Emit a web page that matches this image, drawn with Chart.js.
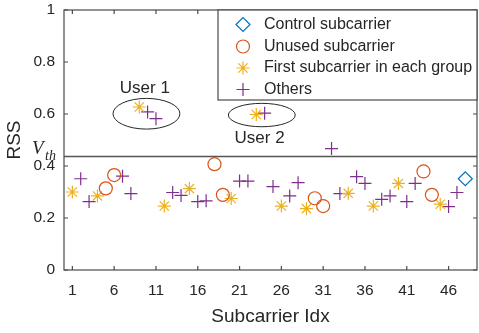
<!DOCTYPE html>
<html><head><meta charset="utf-8">
<script src="https://cdn.jsdelivr.net/npm/chart.js@4.4.0/dist/chart.umd.min.js"></script>
<style>html,body{margin:0;padding:0;background:#fff;overflow:hidden}#wrap{width:479px;height:333px;position:relative}</style>
</head><body><div id="wrap"><canvas id="c" width="479" height="333"></canvas></div>
<script>
// ---- data ----
const subcarrierIdx = [1,2,3,4,5,6,7,8,9,10,11,12,13,14,15,16,17,18,19,20,21,22,23,24,25,26,27,28,29,30,31,32,33,34,35,36,37,38,39,40,41,42,43,44,45,46,47,48];
const rssValues = [0.300,0.351,0.263,0.285,0.314,0.365,0.361,0.294,0.627,0.608,0.582,0.246,0.298,0.287,0.313,0.263,0.266,0.407,0.289,0.275,0.342,0.342,0.598,0.603,0.321,0.246,0.285,0.336,0.236,0.276,0.246,0.467,0.294,0.295,0.359,0.333,0.246,0.272,0.285,0.333,0.263,0.333,0.379,0.289,0.253,0.244,0.298,0.351];
// C = control, U = unused, F = first in group, O = others
const subcarrierType = ['F','O','O','F','U','U','O','O','F','O','O','F','O','O','F','O','O','U','U','F','O','O','F','O','O','F','O','O','F','U','U','O','O','F','O','O','F','O','O','F','O','O','U','U','F','O','O','C'];
const seriesKeys = ['C','U','F','O'];
const seriesNames = ['Control subcarrier','Unused subcarrier','First subcarrier in each group','Others'];
const xTicks = [1,6,11,16,21,26,31,36,41,46];
const yTicks = [0,0.2,0.4,0.6,0.8,1];
const vth = 0.437;
const userLabels = ['User 1','User 2'];
const userCenterX = [9.86,23.66];
const userCenterY = [0.601,0.596];
const userLabelX = [9.67,23.4];
const userLabelY = [0.697,0.508];

// ---- styles ----
const FONT = "'Liberation Sans', Arial, Helvetica, sans-serif";
const TXT = '#262626';
const styles = {
  C:{pointStyle:'rectRot',color:'#0072BD',radius:7},
  U:{pointStyle:'circle',color:'#D95319',radius:6.5},
  F:{pointStyle:'star',color:'#EDB120',radius:6.5},
  O:{pointStyle:'cross',color:'#7E2F8E',radius:6.5}
};

const datasets = seriesKeys.map((k,i)=>({
  label: seriesNames[i],
  data: subcarrierIdx.map((x,j)=>({x:x,y:rssValues[j],t:subcarrierType[j]})).filter(p=>p.t===k),
  pointStyle: styles[k].pointStyle,
  pointRadius: styles[k].radius,
  pointBorderColor: styles[k].color,
  pointBackgroundColor: 'rgba(0,0,0,0)',
  pointBorderWidth: 1.2,
  showLine:false
}));

function drawMarker(ctx,k,x,y){
  const s = styles[k];
  ctx.save();
  ctx.strokeStyle = s.color; ctx.fillStyle='rgba(0,0,0,0)'; ctx.lineWidth=1.2;
  if (Chart.helpers && Chart.helpers.drawPoint) {
    Chart.helpers.drawPoint(ctx,{pointStyle:s.pointStyle,radius:s.radius,rotation:0,borderWidth:1.2},x,y);
  }
  ctx.restore();
}

const decor = {
  id:'decor',
  beforeDatasetsDraw(chart){
    const {ctx, chartArea:a, scales:{x,y}} = chart;
    const py = y.getPixelForValue(vth);
    ctx.save();
    ctx.strokeStyle='#555'; ctx.lineWidth=1.5;
    ctx.beginPath(); ctx.moveTo(a.left,py); ctx.lineTo(a.right,py); ctx.stroke();
    ctx.restore();
  },
  afterDatasetsDraw(chart){
    const {ctx, chartArea:a, scales:{x,y}} = chart;
    ctx.save();
    // ellipses
    ctx.strokeStyle=TXT; ctx.lineWidth=1;
    const rx = [4.0,4.0], ry=[0.059,0.045];
    for(let i=0;i<2;i++){
      const cx=x.getPixelForValue(userCenterX[i]), cy=y.getPixelForValue(userCenterY[i]);
      const w = x.getPixelForValue(userCenterX[i]+rx[i])-cx;
      const h = cy - y.getPixelForValue(userCenterY[i]+ry[i]);
      ctx.beginPath(); ctx.ellipse(cx,cy,w,h,0,0,Math.PI*2); ctx.stroke();
      ctx.fillStyle=TXT; ctx.font='17px '+FONT; ctx.textAlign='center'; ctx.textBaseline='middle';
      ctx.fillText(userLabels[i], x.getPixelForValue(userLabelX[i]), y.getPixelForValue(userLabelY[i]));
    }
    // frame
    ctx.strokeStyle='#4a4a4a'; ctx.lineWidth=1.2;
    ctx.strokeRect(a.left,a.top,a.right-a.left,a.bottom-a.top);
    // inner ticks
    ctx.beginPath();
    xTicks.forEach(v=>{const px=x.getPixelForValue(v); ctx.moveTo(px,a.bottom); ctx.lineTo(px,a.bottom-4); ctx.moveTo(px,a.top); ctx.lineTo(px,a.top+4);});
    yTicks.forEach(v=>{const py=y.getPixelForValue(v); ctx.moveTo(a.left,py); ctx.lineTo(a.left+4,py); ctx.moveTo(a.right,py); ctx.lineTo(a.right-4,py);});
    ctx.stroke();
    // V_th label
    const pv = y.getPixelForValue(vth);
    ctx.fillStyle=TXT; ctx.textAlign='left'; ctx.textBaseline='alphabetic';
    ctx.font="italic 19px 'Liberation Serif', 'Times New Roman', serif";
    ctx.fillText('V',32,pv-2);
    ctx.font="italic 14px 'Liberation Serif', 'Times New Roman', serif";
    ctx.fillText('th',45,pv+4);
    // legend
    const L=218, T=a.top, R=a.right, B=100;
    ctx.fillStyle='#fff'; ctx.fillRect(L,T,R-L,B-T);
    ctx.strokeStyle='#4a4a4a'; ctx.lineWidth=1.2; ctx.strokeRect(L,T,R-L,B-T);
    const rows=[24.5,46.5,68,89.5];
    ctx.font='16px '+FONT; ctx.textBaseline='middle';
    seriesKeys.forEach((k,i)=>{
      drawMarker(ctx,k,243,rows[i]);
      ctx.fillStyle=TXT; ctx.textAlign='left';
      ctx.fillText(seriesNames[i],264,rows[i]);
    });
    ctx.restore();
  }
};

new Chart(document.getElementById('c'),{
  type:'scatter',
  data:{datasets},
  options:{
    responsive:false, animation:false, devicePixelRatio:1,
    layout:{autoPadding:false,padding:{top:10,right:2,left:0,bottom:0}},
    plugins:{legend:{display:false},tooltip:{enabled:false}},
    scales:{
      x:{type:'linear',min:0,max:49.4,
        afterBuildTicks:s=>{s.ticks=xTicks.map(v=>({value:v}));},
        ticks:{font:{family:FONT,size:15.5},color:TXT,padding:11,maxRotation:0,autoSkip:false,callback:v=>String(v)},
        grid:{display:false,drawTicks:false},border:{display:false},
        title:{display:true,text:'Subcarrier Idx',font:{family:FONT,size:19},color:TXT,padding:{top:0,bottom:5}},
        afterFit:s=>{s.height=63; s.paddingLeft=0; s.paddingRight=0;}
      },
      y:{type:'linear',min:0,max:1,
        afterBuildTicks:s=>{s.ticks=yTicks.map(v=>({value:v}));},
        ticks:{font:{family:FONT,size:15.5},color:TXT,padding:9,autoSkip:false,callback:v=>String(v)},
        grid:{display:false,drawTicks:false},border:{display:false},
        title:{display:true,text:'RSS',font:{family:FONT,size:19},color:TXT,padding:{top:3,bottom:0}},
        afterFit:s=>{s.width=64; s.paddingTop=0; s.paddingBottom=0;}
      }
    }
  },
  plugins:[decor]
});
</script></body></html>
